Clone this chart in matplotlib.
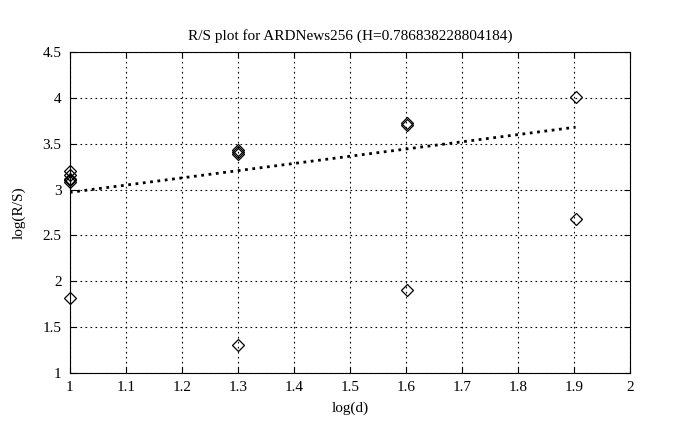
import numpy as np
import matplotlib
matplotlib.use('Agg')
import matplotlib.pyplot as plt

plt.rcParams['font.family'] = ['Liberation Serif', 'DejaVu Serif']

# log(d) for each block size and the R/S values measured there
log_d = [1.0, 1.0, 1.0, 1.0, 1.0, 1.0,
         1.30103, 1.30103, 1.30103, 1.30103,
         1.60206, 1.60206, 1.60206,
         1.90309, 1.90309]
log_rs = [3.20, 3.16, 3.12, 3.10, 3.08, 1.82,
          3.43, 3.41, 3.39, 1.30,
          3.73, 3.70, 1.90,
          4.01, 2.68]

H = 0.786838228804184
intercept = 2.97
fit_x = [1.0, 1.90309]

fig = plt.figure(figsize=(6.78, 4.30), dpi=100)
ax = fig.add_axes([0.103, 0.1326, 0.826, 0.7464])

ax.plot(log_d, log_rs, linestyle='none', marker='D', markersize=6.5,
        markerfacecolor='none', markeredgecolor='k', markeredgewidth=0.9,
        clip_on=False, zorder=3)
fx = np.array(fit_x)
ax.plot(fx, intercept + H * (fx - 1.0), color='k', linestyle=':', linewidth=2)

ax.set_xlim(1, 2)
ax.set_ylim(1, 4.5)
ax.set_xticks(np.arange(1, 2.01, 0.1))
ax.set_xticklabels(['1', '1.1', '1.2', '1.3', '1.4', '1.5', '1.6', '1.7', '1.8', '1.9', '2'])
ax.set_yticks(np.arange(1, 4.51, 0.5))
ax.set_yticklabels(['1', '1.5', '2', '2.5', '3', '3.5', '4', '4.5'])
ax.tick_params(direction='in', length=4, labelsize=11, top=True, right=True, colors='k')
ax.tick_params(axis='x', pad=6)
ax.tick_params(axis='y', pad=6)
ax.grid(True, color='k', linestyle=(0, (1.5, 3)), linewidth=0.8)
for s in ax.spines.values():
    s.set_linewidth(0.8)

ax.set_xlabel('log(d)', fontsize=11, labelpad=5)
ax.set_ylabel('log(R/S)', fontsize=11, labelpad=12)
ax.set_title('R/S plot for ARDNews256 (H=0.786838228804184)', fontsize=11, pad=9)

fig.savefig('out.png', dpi=100)
